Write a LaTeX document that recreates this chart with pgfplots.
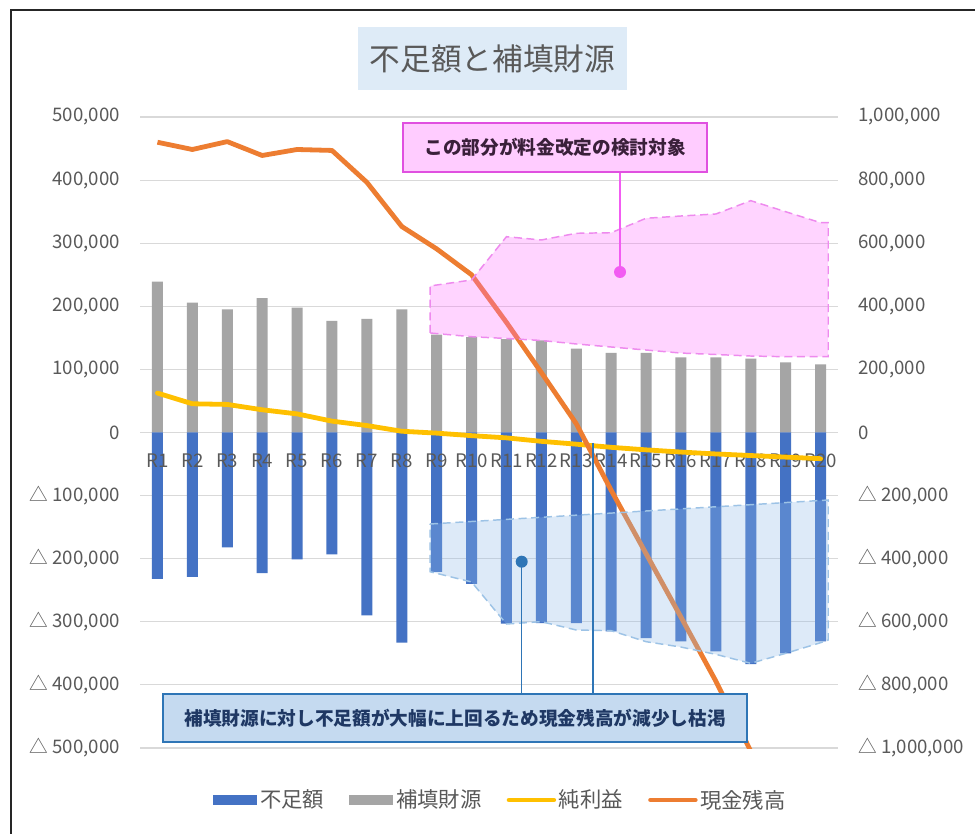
\documentclass[border=0pt]{standalone}
\usepackage{fontspec}
\setmainfont{Noto Sans CJK JP}
\usepackage{pgfplots}
\pgfplotsset{compat=1.18}
\definecolor{cBlue}{HTML}{4472C4}
\definecolor{cGray}{HTML}{A5A5A5}
\definecolor{cYellow}{HTML}{FFC000}
\definecolor{cOrange}{HTML}{ED7D31}
\definecolor{cText}{HTML}{595959}
\definecolor{cGrid}{HTML}{D9D9D9}
\definecolor{cPinkFill}{HTML}{FF66FF}
\definecolor{cPinkLine}{HTML}{EE8AEE}
\definecolor{cPinkBox}{HTML}{FFCCFF}
\definecolor{cPinkBorder}{HTML}{E050E0}
\definecolor{cPinkDot}{HTML}{F25CF2}
\definecolor{cBlueFill}{HTML}{8FBAE9}
\definecolor{cBlueLine}{HTML}{9DC3E6}
\definecolor{cBlueBox}{HTML}{C5DAF0}
\definecolor{cBlueBorder}{HTML}{2E75B6}
\definecolor{cNavy}{HTML}{1F3864}
\definecolor{cPurple}{HTML}{3A203A}
\definecolor{cTitleBox}{HTML}{DEEBF7}
\definecolor{cFrame}{HTML}{262626}
\pgfplotsset{
  barleg/.style={legend image code/.code={\fill[##1] (0pt,-3.4pt) rectangle (33pt,3.4pt);}},
  lineleg/.style={legend image code/.code={\draw[##1, line cap=round] (1.5pt,0pt) -- (35pt,0pt);}},
  base/.style={at={(105pt,63.75pt)}, anchor=south west,
    scale only axis, width=523.5pt, height=473.25pt, xmin=0.5, xmax=20.5},
}
\newcommand{\PX}[2]{({(#1)*0.75pt},{(833-(#2))*0.75pt})}
\begin{document}
\begin{tikzpicture}
\useasboundingbox (0,0) rectangle (731.25pt,624.75pt);
\fill[white] (0,0) rectangle (731.25pt,624.75pt);
% ---------------- axis A : bars, grid, left ticks
\begin{axis}[
  base, ymin=-500000, ymax=500000,
  scaled y ticks=false,
  xtick=\empty,
  ytick={-500000,-400000,-300000,-200000,-100000,0,100000,200000,300000,400000,500000},
  yticklabels={{△ 500,000},{△ 400,000},{△ 300,000},{△ 200,000},{△ 100,000},{0},{100,000},{200,000},{300,000},{400,000},{500,000}},
  ymajorgrids, grid style={color=cGrid, line width=0.8pt},
  axis line style={draw=none}, major tick style={draw=none},
  tick label style={font=\fontsize{14}{16}\selectfont, text=cText},
  yticklabel style={anchor=east, inner sep=0pt, xshift=-15pt},
]
\addplot[ybar, bar width=8.25pt, bar shift=0pt, fill=cGray, draw=none] coordinates {
 (1,239000) (2,206000) (3,195000) (4,213000) (5,198000) (6,177000) (7,180000) (8,195000) (9,155000) (10,151000)
 (11,148000) (12,146000) (13,133000) (14,126000) (15,126000) (16,119000) (17,119000) (18,117000) (19,111000) (20,108000)};
\addplot[ybar, bar width=8.25pt, bar shift=0pt, fill=cBlue, draw=none] coordinates {
 (1,-232000) (2,-229000) (3,-182000) (4,-223000) (5,-201000) (6,-193000) (7,-290000) (8,-333000) (9,-221000) (10,-240000)
 (11,-303000) (12,-302000) (13,-302000) (14,-315000) (15,-326000) (16,-331000) (17,-347000) (18,-367000) (19,-350000) (20,-331000)};
\end{axis}
% ---------------- axis L : category labels above the bars
\begin{axis}[
  base, ymin=-500000, ymax=500000,
  axis y line=none, axis x line*=bottom,
  xtick={1,2,3,4,5,6,7,8,9,10,11,12,13,14,15,16,17,18,19,20},
  xticklabels={R1,R2,R3,R4,R5,R6,R7,R8,R9,R10,R11,R12,R13,R14,R15,R16,R17,R18,R19,R20},
  axis line style={draw=none}, major tick style={draw=none},
  tick label style={font=\fontsize{14}{16}\selectfont, text=cText},
  xticklabel style={anchor=center, inner sep=0pt, yshift=215.25pt},
]
\end{axis}
% ---------------- axis B : lines, right ticks, legend
\begin{axis}[
  base, ymin=-1000000, ymax=1000000,
  scaled y ticks=false,
  axis x line=none, axis y line*=right,
  ytick={-1000000,-800000,-600000,-400000,-200000,0,200000,400000,600000,800000,1000000},
  yticklabels={{△ 1,000,000},{△ 800,000},{△ 600,000},{△ 400,000},{△ 200,000},{0},{200,000},{400,000},{600,000},{800,000},{1,000,000}},
  axis line style={draw=none}, major tick style={draw=none},
  tick label style={font=\fontsize{14}{16}\selectfont, text=cText},
  yticklabel style={anchor=west, inner sep=0pt, xshift=15pt},
  legend columns=4,
  legend style={at={(0.517,-0.0824)}, anchor=center, draw=none, fill=none,
    font=\fontsize{16}{18}\selectfont, text=cText, inner sep=0pt,
    nodes={inner sep=2pt},
    /tikz/every even column/.append style={column sep=17pt}},
]
\addlegendimage{fill=cBlue, draw=none, barleg}
\addlegendentry{不足額}
\addlegendimage{fill=cGray, draw=none, barleg}
\addlegendentry{補填財源}
\addplot[color=cYellow, line width=3.6pt, line join=round, line cap=round, mark=none, lineleg] coordinates {
 (1,125000) (2,91000) (3,89000) (4,72000) (5,59000) (6,36000) (7,22000) (8,4000) (9,-2000) (10,-10000)
 (11,-17000) (12,-28000) (13,-37000) (14,-47000) (15,-55000) (16,-62000) (17,-68000) (18,-73000) (19,-78000) (20,-83000)};
\addlegendentry{純利益}
\addplot[color=cOrange, line width=3.6pt, line join=round, mark=none, lineleg] coordinates {
 (1,920000) (2,897000) (3,922000) (4,878000) (5,897000) (6,894000) (7,793000) (8,653000) (9,582000) (10,500000)
 (11,349000) (12,190000) (13,28000) (14,-183000) (15,-384000) (16,-585000) (17,-788000) (18,-1010000) (19,-1220000) (20,-1430000)};
\addlegendentry{現金残高}
\end{axis}
% ---------------- axis C : highlighted areas
\begin{axis}[
  base, ymin=-500000, ymax=500000,
  hide axis,
]
\addplot[fill=cPinkFill, fill opacity=0.28, draw=cPinkLine, line width=1.1pt, dash pattern=on 6pt off 3.5pt] coordinates {
 (8.81,157700) (8.81,232200) (10,241700) (11,310300) (12,305100) (13,315700) (14,316600) (15,339500) (16,343100)
 (17,346300) (18,367400) (19,349900) (20,332500) (20.22,332500) (20.22,120100) (19,120100) (18,121200) (17,123600)
 (16,125900) (15,130700) (14,135500) (13,140300) (12,145800) (11,149000) (10,151800)} -- cycle;
\addplot[fill=cBlueFill, fill opacity=0.3, draw=cBlueLine, line width=1.1pt, dash pattern=on 6pt off 3.5pt] coordinates {
 (8.81,-145000) (20.22,-107000) (20.22,-328800) (20,-333100) (19,-350000) (18,-365800) (17,-351600) (16,-340000)
 (15,-331500) (14,-314100) (13,-313000) (12,-299800) (11,-303500) (10,-236900) (8.81,-220600)} -- cycle;
\end{axis}
% ---------------- frame, title, annotations
\draw[cFrame, line width=1.5pt] \PX{11}{10} rectangle \PX{1000}{860};
\fill[cTitleBox] \PX{358}{27} rectangle \PX{627}{90};
\node[text=cText, font=\fontsize{23}{26}\selectfont, inner sep=0pt] at \PX{492.5}{58.5} {不足額と補填財源};
% pink callout
\draw[cPinkDot, line width=1.1pt] \PX{620}{172} -- \PX{620}{272};
\fill[cPinkDot] \PX{620}{272} circle (4.5pt);
\draw[cPinkBorder, fill=cPinkBox, line width=1.3pt] \PX{403}{123} rectangle \PX{707}{172};
\node[text=cPurple, font=\bfseries\fontsize{14}{16}\selectfont, inner sep=0pt] at \PX{555}{147.5} {この部分が料金改定の検討対象};
% blue callout
\draw[cBlueBorder, line width=1.1pt] \PX{521.7}{561.7} -- \PX{521.7}{694};
\draw[cBlueBorder, line width=1.1pt] \PX{593}{443} -- \PX{593}{694};
\fill[cBlueBorder] \PX{521.7}{561.7} circle (4.5pt);
\draw[cBlueBorder, fill=cBlueBox, line width=1.3pt] \PX{163}{694} rectangle \PX{747}{742};
\node[text=cNavy, font=\bfseries\fontsize{14}{16}\selectfont, inner sep=0pt] at \PX{455}{718} {補填財源に対し不足額が大幅に上回るため現金残高が減少し枯渇};
\end{tikzpicture}
\end{document}
